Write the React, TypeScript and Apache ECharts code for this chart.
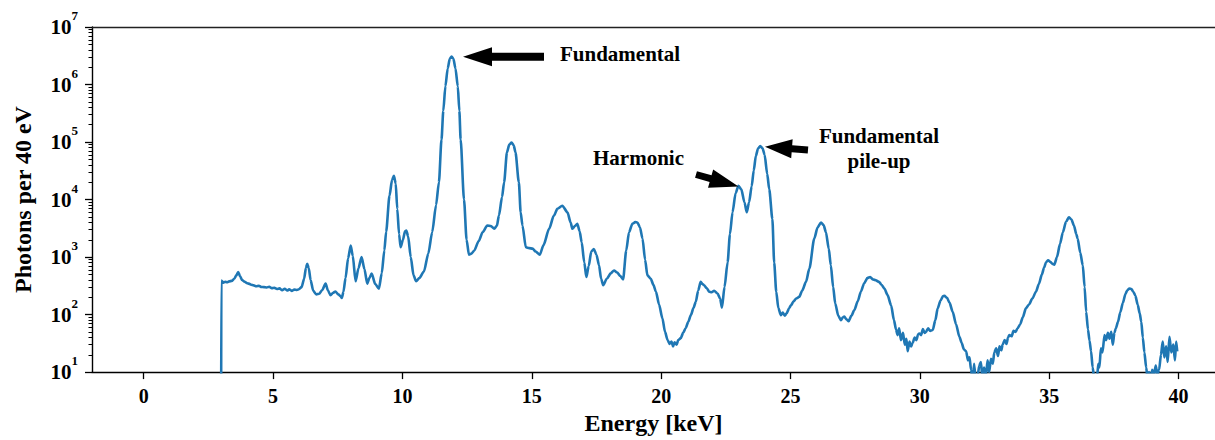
import React, { useEffect, useRef } from "react";
import * as echarts from "echarts";

const energyKeV = [
  2.99, 3.0, 3.08, 3.15, 3.22, 3.3, 3.4, 3.5, 3.58, 3.65, 3.72, 3.8, 3.9, 4.0, 4.06, 4.15, 4.25, 4.35, 4.45, 4.55,
  4.65, 4.75, 4.85, 4.95, 5.05, 5.15, 5.25, 5.35, 5.45, 5.55, 5.62, 5.72, 5.82, 5.92, 6.0, 6.1, 6.2, 6.27, 6.32, 6.38,
  6.45, 6.55, 6.67, 6.78, 6.9, 7.03, 7.12, 7.22, 7.32, 7.41, 7.52, 7.6, 7.66, 7.72, 7.8, 7.9, 8.0, 8.08, 8.19, 8.3,
  8.42, 8.53, 8.64, 8.72, 8.81, 8.95, 9.09, 9.2, 9.3, 9.37, 9.5, 9.6, 9.67, 9.74, 9.8, 9.87, 9.93, 10.02, 10.1, 10.15,
  10.22, 10.32, 10.43, 10.53, 10.65, 10.83, 11.0, 11.15, 11.3, 11.41, 11.51, 11.58, 11.66, 11.75, 11.83, 11.9, 11.97, 12.05, 12.14, 12.2,
  12.25, 12.38, 12.48,
  12.57, 12.67, 12.77, 12.95, 13.1, 13.28, 13.42, 13.55, 13.65, 13.73, 13.85, 13.93, 14.04, 14.13, 14.22, 14.3, 14.37, 14.5, 14.57, 14.64, 14.77, 14.9,
  15.03, 15.15, 15.31, 15.45, 15.67, 15.85, 15.99, 16.18, 16.38, 16.5, 16.57, 16.68, 16.76, 16.85, 16.93, 17.03, 17.11, 17.2, 17.3, 17.4,
  17.5, 17.6, 17.68, 17.76, 17.9, 18.05, 18.18, 18.3, 18.42, 18.53, 18.65, 18.76, 18.89, 19.0, 19.08, 19.18, 19.28, 19.38, 19.47, 19.6,
  19.7, 19.8, 19.92, 20.05, 20.15, 20.25, 20.33, 20.4, 20.46, 20.52, 20.6, 20.66, 20.76, 20.85, 20.95, 21.05, 21.15, 21.25, 21.34, 21.43,
  21.53, 21.6, 21.66, 21.76, 21.86, 21.95, 22.05, 22.18, 22.28, 22.35, 22.45, 22.57, 22.66, 22.76, 22.88, 22.99, 23.1, 23.22, 23.31, 23.4,
  23.5, 23.58, 23.66, 23.75, 23.83, 23.92, 24.0, 24.1, 24.18, 24.3, 24.37, 24.45, 24.53, 24.63, 24.7, 24.78, 24.85, 24.95, 25.02, 25.12,
  25.22, 25.34, 25.45, 25.6, 25.73, 25.92, 26.05, 26.18, 26.28, 26.37, 26.48, 26.56, 26.65, 26.73, 26.85, 26.95, 27.03, 27.08, 27.17, 27.25,
  27.35, 27.47, 27.6, 27.72, 27.85, 27.98, 28.08, 28.18, 28.3, 28.42, 28.52, 28.63, 28.75, 28.89, 29.0, 29.08, 29.14, 29.2, 29.27, 29.35,
  29.42, 29.48, 29.53, 29.6, 29.66, 29.72, 29.8, 29.87, 29.93, 29.98, 30.05, 30.12, 30.18, 30.24, 30.32, 30.4, 30.5, 30.6, 30.69, 30.8,
  30.9, 30.95, 31.05, 31.15, 31.27, 31.4, 31.53, 31.62, 31.7, 31.79, 31.86, 31.92, 31.98, 32.04, 32.1, 32.17, 32.24, 32.3, 32.36, 32.42,
  32.48, 32.56, 32.62, 32.68, 32.75, 32.82, 32.88, 32.95, 33.02, 33.08, 33.15, 33.2, 33.28, 33.35, 33.41, 33.46, 33.55, 33.62, 33.7, 33.78,
  33.88, 33.98, 34.1, 34.22, 34.35, 34.49, 34.6, 34.72, 34.8, 34.88, 34.96, 35.05, 35.13, 35.2, 35.3, 35.42, 35.53, 35.65, 35.76, 35.86,
  35.96, 36.05, 36.1, 36.2, 36.3, 36.37, 36.43, 36.5, 36.56, 36.62, 36.68, 36.74, 36.8, 36.86, 36.9, 36.94, 37.0, 37.06, 37.14, 37.2,
  37.27, 37.33, 37.4, 37.46, 37.52, 37.58, 37.66, 37.75, 37.85, 37.95, 38.02, 38.1, 38.18, 38.25, 38.33, 38.42, 38.5, 38.56, 38.62, 38.68,
  38.75, 38.8, 38.86, 38.92, 38.98, 39.05, 39.12, 39.18, 39.25, 39.32, 39.39, 39.45, 39.52, 39.58, 39.65, 39.72, 39.8, 39.86, 39.91, 39.95,
];

const photons = [
  1, 390, 360, 372, 365, 378, 385, 420, 480, 550, 470, 400, 372, 350, 346, 330, 322, 310, 318, 302,
  300, 296, 305, 288, 292, 278, 285, 265, 282, 262, 275, 258, 272, 268, 276, 300, 420, 650, 767, 640,
  400, 260, 224, 230, 268, 346, 262, 217, 240, 252, 225, 210, 195, 250, 430, 950, 1590, 1050, 380, 640,
  1000, 620, 346, 430, 516, 340, 283, 520, 1300, 2750, 11700, 22000, 25900, 19000, 6900, 2500, 1480, 2000, 2800, 2900,
  2300, 1000, 480, 380, 430, 560, 1150, 2700, 8000, 20000, 110000, 350000, 930000, 1900000, 2800000, 3070000, 2800000, 1900000, 930000, 350000,
  110000, 10000, 2000,
  1100, 1150, 1290, 1900, 2700, 3540, 3450, 3100, 3500, 5260, 11000, 20000, 66000, 90000, 97700, 88000, 66000, 20000, 6000, 3540, 1480, 1430,
  1400, 1250, 1100, 1600, 3100, 5200, 6900, 7800, 6000, 4000, 3100, 3500, 3800, 2800, 1800, 800, 450, 700, 1250, 1380,
  1100, 716, 420, 323, 420, 520, 585, 540, 470, 410, 1300, 2700, 3800, 4050, 4000, 3300, 2100, 900, 480, 420,
  330, 250, 150, 86, 50, 36, 31, 34, 28, 33, 30, 36, 39, 48, 58, 75, 98, 130, 167, 260,
  370, 340, 323, 290, 250, 245, 260, 233, 190, 132, 300, 815, 2500, 6000, 13000, 17400, 15000, 9000, 6000, 9000,
  17000, 32000, 57000, 78000, 85000, 78000, 60000, 28000, 15000, 4600, 800, 250, 130, 98, 108, 96, 105, 130, 145, 170,
  190, 204, 260, 370, 630, 2100, 3300, 4000, 3600, 2700, 1400, 716, 300, 156, 95, 80, 90, 92, 82, 77,
  95, 120, 170, 250, 350, 435, 450, 410, 395, 370, 330, 283, 220, 145, 80, 55, 44, 58, 36, 48,
  30, 38, 23, 34, 28, 32, 40, 36, 45, 47, 44, 56, 48, 50, 58, 52, 54, 80, 128, 175,
  210, 212, 195, 160, 112, 68, 41, 32, 25, 23, 16, 18, 11, 7, 14, 6, 9, 13, 15, 8,
  12, 9, 16, 10, 17, 14, 22, 26, 19, 28, 24, 30, 36, 31, 40, 44, 42, 52, 50, 58,
  68, 90, 128, 150, 190, 250, 340, 500, 650, 815, 880, 820, 760, 740, 1000, 1700, 2700, 4100, 4900, 4500,
  3500, 2500, 2100, 1200, 716, 300, 112, 55, 35, 23, 12, 8, 6, 9, 14, 12, 26, 22, 44, 36,
  48, 38, 50, 30, 48, 58, 75, 110, 160, 230, 265, 283, 278, 250, 215, 150, 105, 75, 40, 22,
  12, 8, 10, 7, 11, 9, 13, 9, 11, 20, 34, 18, 28, 15, 41, 22, 30, 16, 34, 23,
];

const xTickValues = [0, 5, 10, 15, 20, 25, 30, 35, 40];
const yTickValues = [10, 100, 1000, 10000, 100000, 1000000, 10000000];
const yMinorTickValues = [
  20, 30, 40, 50, 60, 70, 80, 90,
  200, 300, 400, 500, 600, 700, 800, 900,
  2000, 3000, 4000, 5000, 6000, 7000, 8000, 9000,
  20000, 30000, 40000, 50000, 60000, 70000, 80000, 90000,
  200000, 300000, 400000, 500000, 600000, 700000, 800000, 900000,
  2000000, 3000000, 4000000, 5000000, 6000000, 7000000, 8000000, 9000000,
];

const FONT = '"Liberation Serif", "Times New Roman", Times, serif';

function arrowPoints(tail: number[], tip: number[], headLen: number, headHalf: number, shaftHalf: number) {
  const dx = tip[0] - tail[0];
  const dy = tip[1] - tail[1];
  const len = Math.sqrt(dx * dx + dy * dy);
  const ux = dx / len;
  const uy = dy / len;
  const px = -uy;
  const py = ux;
  const bx = tip[0] - ux * headLen;
  const by = tip[1] - uy * headLen;
  return [
    [tip[0], tip[1]],
    [bx + px * headHalf, by + py * headHalf],
    [bx + px * shaftHalf, by + py * shaftHalf],
    [tail[0] + px * shaftHalf, tail[1] + py * shaftHalf],
    [tail[0] - px * shaftHalf, tail[1] - py * shaftHalf],
    [bx - px * shaftHalf, by - py * shaftHalf],
    [bx - px * headHalf, by - py * headHalf],
  ];
}

export default function App() {
  const ref = useRef<HTMLDivElement>(null);

  useEffect(() => {
    if (!ref.current) return;
    const chart = echarts.init(ref.current, null, { renderer: "svg" });
    const seriesData = energyKeV.map((e, i) => [e, photons[i]]);
    const annFont = `bold 21px ${FONT}`;

    chart.setOption({
      animation: false,
      backgroundColor: "#ffffff",
      grid: { left: 92, right: 0, top: 27, bottom: 66, containLabel: false },
      xAxis: [
        {
          type: "value",
          min: -2,
          max: 41.41,
          position: "bottom",
          axisLine: { show: true, onZero: false, lineStyle: { color: "#000", width: 1.4 } },
          axisTick: { show: true, length: 7, customValues: xTickValues, lineStyle: { color: "#000", width: 1.3 } },
          axisLabel: {
            customValues: xTickValues,
            margin: 14,
            color: "#000",
            fontFamily: FONT,
            fontWeight: "bold",
            fontSize: 20,
          },
          splitLine: { show: false },
          name: "Energy [keV]",
          nameLocation: "middle",
          nameGap: 38,
          nameTextStyle: { color: "#000", fontFamily: FONT, fontWeight: "bold", fontSize: 24 },
        },
        {
          type: "value",
          min: -2,
          max: 41.41,
          position: "top",
          axisLine: { show: true, onZero: false, lineStyle: { color: "#222", width: 1.4 } },
          axisTick: { show: false },
          axisLabel: { show: false },
          splitLine: { show: false },
        },
      ],
      yAxis: [
        {
          type: "log",
          logBase: 10,
          min: 10,
          max: 10000000,
          position: "left",
          axisLine: { show: true, onZero: false, lineStyle: { color: "#000", width: 1.4 } },
          axisTick: { show: true, length: 7, customValues: yTickValues, lineStyle: { color: "#000", width: 1.3 } },
          axisLabel: {
            customValues: yTickValues,
            margin: 14,
            formatter: (v: number) => `{b|10}{s|${Math.round(Math.log10(v))}}`,
            rich: {
              b: { fontFamily: FONT, fontWeight: "bold", fontSize: 21, color: "#000", lineHeight: 36 },
              s: { fontFamily: FONT, fontWeight: "bold", fontSize: 13, color: "#000", lineHeight: 14, verticalAlign: "top" },
            },
          },
          splitLine: { show: false },
          name: "Photons per 40 eV",
          nameLocation: "middle",
          nameGap: 57,
          nameTextStyle: { color: "#000", fontFamily: FONT, fontWeight: "bold", fontSize: 24 },
        },
        {
          type: "log",
          logBase: 10,
          min: 10,
          max: 10000000,
          position: "left",
          axisLine: { show: false, onZero: false },
          axisTick: { show: true, length: 3.5, customValues: yMinorTickValues, lineStyle: { color: "#000", width: 1 } },
          axisLabel: { show: false },
          splitLine: { show: false },
        },
      ],
      series: [
        {
          type: "line",
          xAxisIndex: 0,
          yAxisIndex: 0,
          data: seriesData,
          showSymbol: false,
          symbol: "none",
          smooth: 0.25,
          smoothMonotone: "x",
          clip: true,
          lineStyle: { color: "#1f77b4", width: 2.6 },
          itemStyle: { color: "#1f77b4" },
        },
      ],
      graphic: [
        {
          type: "polygon",
          shape: { points: arrowPoints([544, 56.7], [463, 56.7], 29, 9.5, 4) },
          style: { fill: "#000" },
          z: 100,
        },
        {
          type: "polygon",
          shape: { points: arrowPoints([808, 150], [765, 146.7], 27, 9.5, 3.5) },
          style: { fill: "#000" },
          z: 100,
        },
        {
          type: "polygon",
          shape: { points: arrowPoints([696, 174.5], [738.5, 186.5], 29, 9.5, 3.5) },
          style: { fill: "#000" },
          z: 100,
        },
        {
          type: "text",
          x: 560,
          y: 54,
          style: { text: "Fundamental", font: annFont, fill: "#000", align: "left", verticalAlign: "middle" },
          z: 100,
        },
        {
          type: "text",
          x: 593,
          y: 158,
          style: { text: "Harmonic", font: annFont, fill: "#000", align: "left", verticalAlign: "middle" },
          z: 100,
        },
        {
          type: "text",
          x: 879,
          y: 136,
          style: { text: "Fundamental", font: annFont, fill: "#000", align: "center", verticalAlign: "middle" },
          z: 100,
        },
        {
          type: "text",
          x: 879,
          y: 161,
          style: { text: "pile-up", font: annFont, fill: "#000", align: "center", verticalAlign: "middle" },
          z: 100,
        },
      ],
    });

    return () => {
      chart.dispose();
    };
  }, []);

  return (
    <div
      ref={ref}
      style={{ position: "absolute", left: 0, top: 0, width: 1215, height: 440, background: "#fff" }}
    />
  );
}
